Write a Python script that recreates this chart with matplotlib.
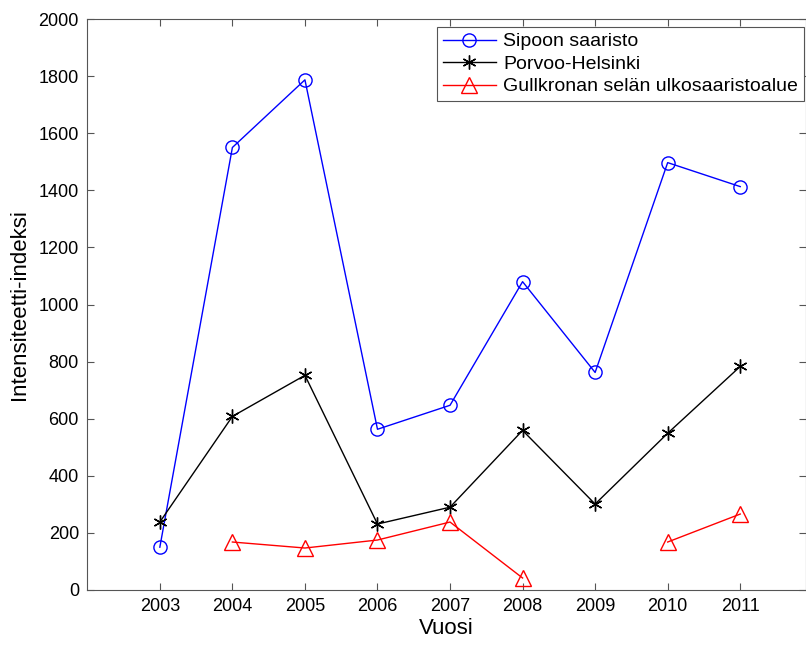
import numpy as np
import matplotlib.pyplot as plt

plt.rcParams['font.family'] = ['Liberation Sans', 'DejaVu Sans']

vuodet = [2003, 2004, 2005, 2006, 2007, 2008, 2009, 2010, 2011]
sipoo = [150, 1550, 1787, 563, 647, 1080, 762, 1497, 1413]
porvoo = [238, 608, 752, 231, 290, 559, 301, 549, 783]
gullkrona = [np.nan, 168, 147, 175, 238, 42, np.nan, 168, 266]

fig = plt.figure(figsize=(8.06, 6.45), dpi=100)
ax = fig.add_axes([0.1083, 0.0853, 0.8911, 0.8852])

ax.plot(vuodet, sipoo, '-', color='blue', lw=1.0, marker='o', ms=9.5,
        mfc='none', mec='blue', mew=1.0, label='Sipoon saaristo')
ax.plot(vuodet, porvoo, '-', color='black', lw=1.0, marker=(6, 2, 0), ms=10,
        mec='black', mew=1.0, label='Porvoo-Helsinki')
ax.plot(vuodet, gullkrona, '-', color='red', lw=1.0, marker='^', ms=11,
        mfc='none', mec='red', mew=1.0, label='Gullkronan selän ulkosaaristoalue')

ax.set_xlim(2002, 2011.9)
ax.set_ylim(0, 2000)
ax.set_xticks(vuodet)
ax.set_yticks(range(0, 2001, 200))
ax.tick_params(direction='in', length=5, width=0.8, color='#555555',
               top=True, right=True, labelsize=13, pad=6)
for s in ax.spines.values():
    s.set_color('#555555')
    s.set_linewidth(0.8)

ax.set_xlabel('Vuosi', fontsize=16, labelpad=2)
ax.set_ylabel('Intensiteetti-indeksi', fontsize=16, labelpad=6)

leg = ax.legend(loc='upper right', bbox_to_anchor=(0.998, 0.986), fontsize=14,
                fancybox=False, edgecolor='#555555', framealpha=1,
                handlelength=2.7, borderaxespad=0, borderpad=0.3,
                labelspacing=0.25, handletextpad=0.4)
leg.get_frame().set_linewidth(0.8)

plt.savefig('out.png')
